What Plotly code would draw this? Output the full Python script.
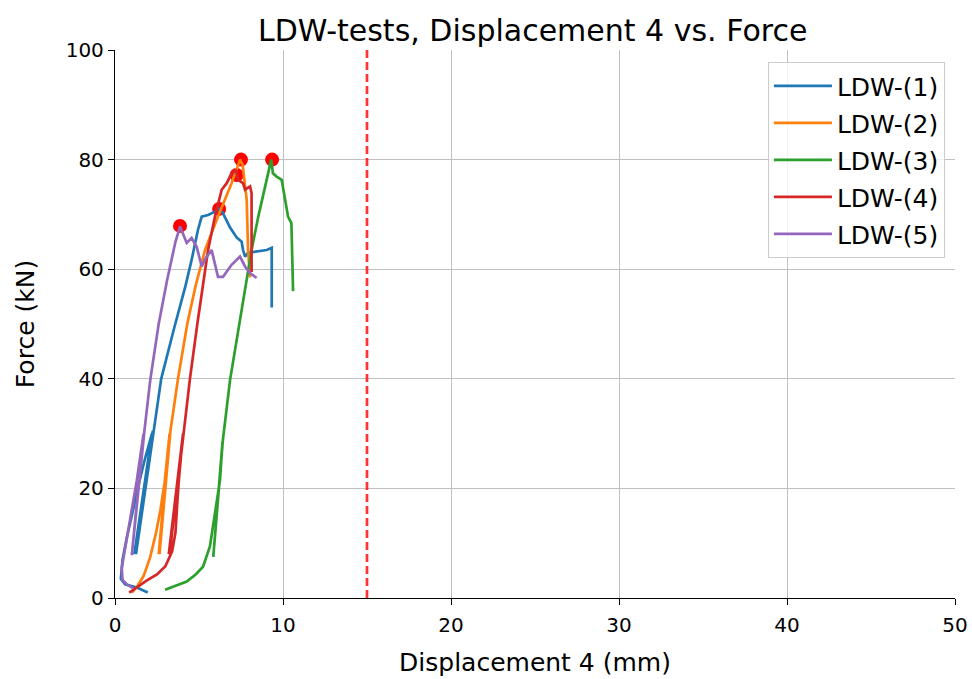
import plotly.graph_objects as go

# ---- data (displacement mm, force kN) ----
names = ["LDW-(1)", "LDW-(2)", "LDW-(3)", "LDW-(4)", "LDW-(5)"]
colors = ["#1f77b4", "#ff7f0e", "#2ca02c", "#d62728", "#9467bd"]

x1 = [1.95, 1.3, 0.6, 0.35, 0.45, 0.7, 1.0, 1.35, 1.75, 2.2, 1.15, 2.2, 1.2, 2.25, 1.25, 2.3,
      2.75, 3.5, 4.2, 4.56, 4.94, 5.16, 5.54, 5.95, 6.2, 6.43, 6.85, 7.24, 7.54, 7.62, 7.74,
      7.92, 8.33, 9.03, 9.33, 9.33, 9.33]
y1 = [1.0, 1.9, 2.5, 3.5, 7, 11, 15, 20, 25, 30, 8, 30, 8, 30.5, 8, 30.5,
      40, 49, 57, 61.7, 67.2, 69.6, 69.9, 70.5, 71, 70.2, 67.6, 65.8, 65, 63.5, 62.3,
      63, 63.2, 63.5, 63.9, 56, 53]

x2 = [1.0, 1.3, 1.7, 2.1, 2.45, 2.7, 2.95, 3.25, 2.6, 3.25, 2.62, 3.3, 2.65, 3.3,
      3.75, 4.3, 4.8, 5.36, 6.13, 6.94, 7.44, 7.6, 7.84, 7.92, 8.04]
y2 = [1.0, 2.0, 4.0, 7.5, 12, 16, 21, 30, 8, 30, 8, 30.5, 8, 30.5,
      40, 50, 57, 63.5, 69.6, 75.7, 80, 79, 72.6, 63.5, 58.5]

x3 = [2.98, 3.5, 4.27, 4.8, 5.24, 5.65, 5.95, 6.25, 6.4, 5.85, 6.4, 5.88, 6.42,
      6.85, 7.3, 7.84, 8.13, 8.53, 8.83, 9.13, 9.3, 9.4, 9.62, 9.92, 10.12, 10.3, 10.5,
      10.6, 10.6]
y3 = [1.5, 2.1, 3.0, 4.3, 5.7, 9.4, 15.5, 21.5, 28.5, 7.5, 28.5, 7.5, 28.8,
      39.8, 48, 58, 63.5, 69.6, 73.9, 78.1, 80, 77.5, 76.9, 76.3, 72.6, 69.6, 68.4,
      57.5, 56]

x4 = [0.85, 1.3, 1.9, 2.5, 3.0, 3.4, 3.6, 3.7, 3.8, 4.05, 3.2, 4.05, 3.25, 4.1, 3.28, 4.1,
      4.46, 4.9, 5.3, 5.54, 5.95, 6.35, 6.65, 6.94, 7.2, 7.32, 7.62, 7.74, 8.04, 8.13,
      8.13, 8.13]
y4 = [1.0, 2.0, 3.2, 4.3, 5.8, 8.5, 12, 17, 21.5, 30, 8, 30, 8, 30.5, 8, 30.5,
      40, 50, 58, 63.5, 69.6, 74.5, 75.7, 77.5, 78, 76.3, 75.7, 74.5, 75.1, 73.9,
      66.6, 59.5]

x5 = [1.07, 0.7, 0.45, 0.4, 0.6, 0.8, 1.05, 1.3, 1.7, 1.0, 1.7, 1.02, 1.72, 1.05, 1.75,
      2.1, 2.6, 3.1, 3.4, 3.6, 3.87, 4.27, 4.56, 4.86, 5.16, 5.4, 5.75, 5.95, 6.13, 6.43,
      6.94, 7.44, 7.74, 8.04, 8.43]
y5 = [1.8, 2.5, 3.3, 5.5, 9, 12.4, 17, 21.5, 30, 7.8, 30, 8, 30, 8, 30.5,
      39.8, 50, 58, 62, 65, 67.8, 64.8, 65.7, 64.1, 60.5, 62, 63.5, 61, 58.6, 58.6,
      60.8, 62.3, 60.5, 59.3, 58.4]

peak_x = [6.2, 7.5, 9.35, 7.24, 3.87]
peak_y = [71, 80, 80, 77.2, 67.9]

limit_x = 15

xs = [x1, x2, x3, x4, x5]
ys = [y1, y2, y3, y4, y5]

fig = go.Figure()

fig.add_trace(go.Scatter(x=peak_x, y=peak_y, mode="markers", showlegend=False,
                         marker=dict(color="red", size=14, line=dict(width=0)),
                         hoverinfo="skip"))

for i in range(5):
    fig.add_trace(go.Scatter(x=xs[i], y=ys[i], mode="lines", name=names[i],
                             legendgroup=names[i],
                             line=dict(color=colors[i], width=2.7)))

fig.add_trace(go.Scatter(x=[limit_x, limit_x], y=[0, 100], mode="lines", showlegend=False,
                         line=dict(color="rgba(255,0,0,0.8)", width=2.7, dash="8px,4px")))

font = "DejaVu Sans"
fig.update_layout(
    width=972, height=679,
    margin=dict(l=115, r=17, t=50, b=81, autoexpand=False),
    paper_bgcolor="white", plot_bgcolor="white",
    font=dict(family=font, size=20, color="black"),
    title=dict(text="LDW-tests, Displacement 4 vs. Force", x=0.548, xanchor="center",
               y=1 - 30 / 679, yanchor="middle", yref="container",
               font=dict(family=font, size=30, color="black")),
    legend=dict(x=0.988, xanchor="right", y=0.978, yanchor="top",
                bgcolor="rgba(255,255,255,0.8)", bordercolor="#cccccc", borderwidth=1,
                font=dict(family=font, size=25, color="black"),
                itemwidth=58, tracegroupgap=1.5),
    showlegend=True,
)
fig.update_xaxes(range=[0, 50], dtick=10, showgrid=True, gridcolor="#c0c0c0", gridwidth=1.3,
                 showline=True, linecolor="black", linewidth=1.3, zeroline=False,
                 ticks="outside", ticklen=6, tickwidth=1.3, tickcolor="black",
                 ticklabelstandoff=3, automargin=False,
                 title=dict(text="Displacement 4 (mm)", font=dict(family=font, size=25), standoff=17),
                 tickfont=dict(family=font, size=20))
fig.update_yaxes(range=[0, 100], dtick=20, showgrid=True, gridcolor="#c0c0c0", gridwidth=1.3,
                 showline=True, linecolor="black", linewidth=1.3, zeroline=False,
                 ticks="outside", ticklen=6, tickwidth=1.3, tickcolor="black",
                 automargin=False,
                 title=dict(text="Force (kN)", font=dict(family=font, size=25), standoff=23),
                 tickfont=dict(family=font, size=20))

fig.write_html("out.html")
